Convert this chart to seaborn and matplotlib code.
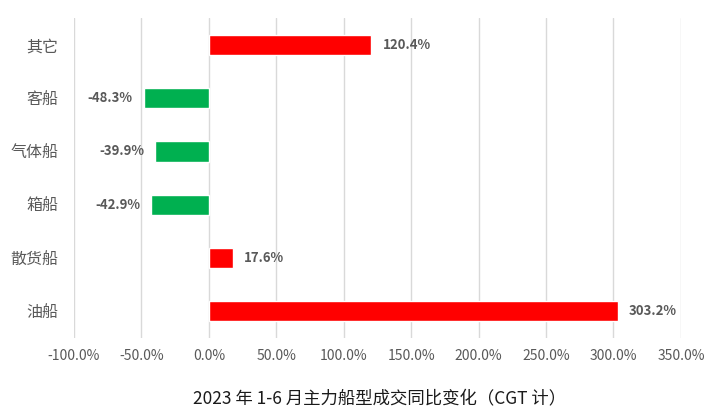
import matplotlib
matplotlib.use('Agg')
import pandas as pd
import matplotlib.pyplot as plt
import seaborn as sns
from matplotlib.ticker import FuncFormatter

categories = ['其它', '客船', '气体船', '箱船', '散货船', '油船']
changes = [120.4, -48.3, -39.9, -42.9, 17.6, 303.2]
ticks = [-100, -50, 0, 50, 100, 150, 200, 250, 300, 350]
title = '2023 年 1-6 月主力船型成交同比变化（CGT 计）'

df = pd.DataFrame({'type': categories, 'change': changes})
df['sign'] = ['up' if v >= 0 else 'down' for v in df['change']]

sns.set_style('white')
plt.rcParams['font.family'] = ['Noto Sans CJK SC', 'DejaVu Sans']

fig = plt.figure(figsize=(7.09, 4.16), dpi=100)
ax = fig.add_axes([0.1044, 0.1875, 0.856, 0.769])
sns.barplot(data=df, x='change', y='type', hue='sign', order=categories,
            palette={'up': '#FF0000', 'down': '#00B050'}, orient='h',
            width=0.38, dodge=False, legend=False, saturation=1, ax=ax)

for c in ax.containers:
    labels = ['%.1f%%' % v for v in c.datavalues]
    ax.bar_label(c, labels=labels, padding=8, color='#595959', fontsize=9.5,
                 fontweight='bold')

ax.set_xlim(-100, 350)
ax.set_ylim(5.5, -0.5)
ax.set_xticks(ticks)
ax.xaxis.set_major_formatter(FuncFormatter(lambda v, p: '%.1f%%' % v))
ax.grid(axis='x', color='#D9D9D9', linewidth=1)
ax.set_axisbelow(True)
for s in ax.spines.values():
    s.set_visible(False)
ax.tick_params(axis='x', colors='#595959', labelsize=10, length=0, pad=8)
ax.tick_params(axis='y', colors='#595959', labelsize=11.5, length=0, pad=11)
ax.set_xlabel('')
ax.set_ylabel('')
fig.text(0.535, 0.02, title, ha='center', va='bottom', fontsize=12.5, color='#1a1a1a')

fig.savefig('out.png', dpi=100)
